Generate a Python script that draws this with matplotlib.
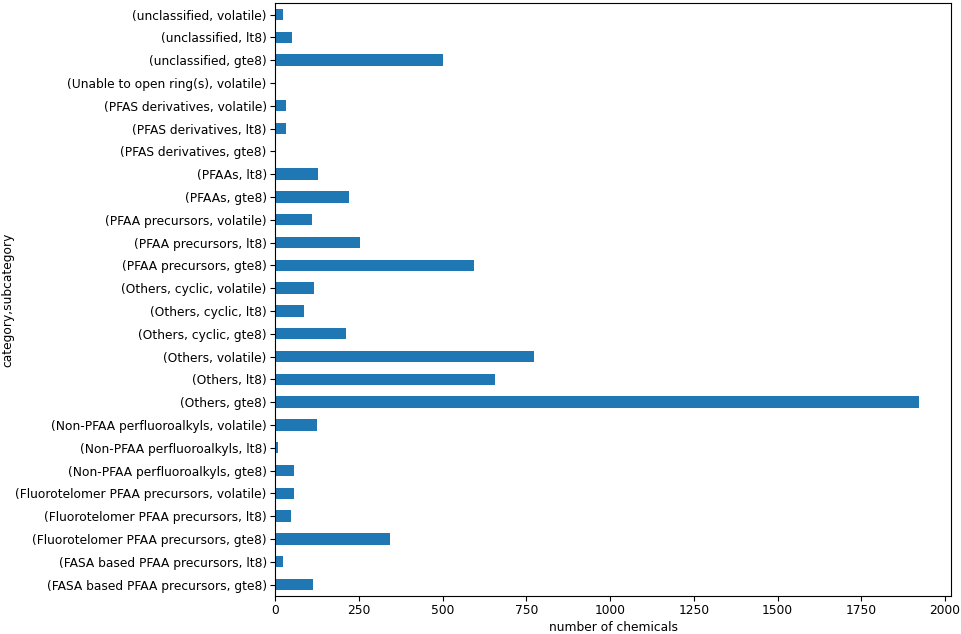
import matplotlib
matplotlib.use("Agg")
import matplotlib.pyplot as plt
import numpy as np

labels = [
    "(FASA based PFAA precursors, gte8)",
    "(FASA based PFAA precursors, lt8)",
    "(Fluorotelomer PFAA precursors, gte8)",
    "(Fluorotelomer PFAA precursors, lt8)",
    "(Fluorotelomer PFAA precursors, volatile)",
    "(Non-PFAA perfluoroalkyls, gte8)",
    "(Non-PFAA perfluoroalkyls, lt8)",
    "(Non-PFAA perfluoroalkyls, volatile)",
    "(Others, gte8)",
    "(Others, lt8)",
    "(Others, volatile)",
    "(Others, cyclic, gte8)",
    "(Others, cyclic, lt8)",
    "(Others, cyclic, volatile)",
    "(PFAA precursors, gte8)",
    "(PFAA precursors, lt8)",
    "(PFAA precursors, volatile)",
    "(PFAAs, gte8)",
    "(PFAAs, lt8)",
    "(PFAS derivatives, gte8)",
    "(PFAS derivatives, lt8)",
    "(PFAS derivatives, volatile)",
    "(Unable to open ring(s), volatile)",
    "(unclassified, gte8)",
    "(unclassified, lt8)",
    "(unclassified, volatile)",
]
values = [113, 23, 342, 48, 57, 55, 8, 124, 1923, 655, 774, 213, 86, 117,
          595, 252, 111, 222, 129, 4, 31, 32, 1, 501, 51, 24]

fig = plt.figure(figsize=(9.62, 6.34), dpi=100)
ax = fig.add_axes([0.286, 0.06, 0.703, 0.935])
y = np.arange(len(labels))
ax.barh(y, values, height=0.5, color="#1f77b4")
ax.set_yticks(y)
ax.set_yticklabels(labels, fontsize=8.8)
ax.set_ylim(-0.5, len(labels) - 0.5)
ax.tick_params(axis="both", labelsize=8.8, length=3.5, pad=2.5)
ax.set_xticks([0, 250, 500, 750, 1000, 1250, 1500, 1750, 2000])
ax.set_xlim(0, 1923 * 1.05)
ax.set_xlabel("number of chemicals", fontsize=8.8)
ax.set_ylabel("category,subcategory", fontsize=8.8)
ax.xaxis.set_label_coords(0.5, -0.042)
ax.yaxis.set_label_coords(-0.386, 0.5)
fig.savefig("out.png", dpi=100)
